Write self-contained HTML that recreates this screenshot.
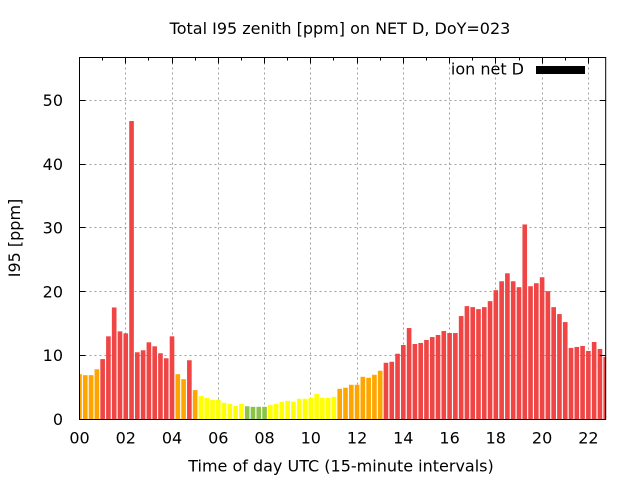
<!DOCTYPE html>
<html><head><meta charset="utf-8"><style>
html,body{margin:0;padding:0;background:#fff;}
svg{display:block;}
text{font-family:"DejaVu Sans","Liberation Sans",sans-serif;font-size:16px;fill:#000;}
.r{fill:#f04545}.o{fill:#ffa500}.y{fill:#ffff00}.g{fill:#8bc34a}
</style></head><body>
<svg width="640" height="480" viewBox="0 0 640 480" xmlns="http://www.w3.org/2000/svg">
<rect x="0" y="0" width="640" height="480" fill="#fff"/>
<defs><clipPath id="c"><rect x="0" y="0" width="22.75" height="57"/></clipPath></defs>
<g stroke="#a0a0a0" stroke-width="1" stroke-dasharray="2,3" fill="none">
<line x1="79.5" y1="355.5" x2="605.7" y2="355.5"/>
<line x1="79.5" y1="291.5" x2="605.7" y2="291.5"/>
<line x1="79.5" y1="227.5" x2="605.7" y2="227.5"/>
<line x1="79.5" y1="164.5" x2="605.7" y2="164.5"/>
<line x1="79.5" y1="100.5" x2="605.7" y2="100.5"/>
<line x1="125.5" y1="57.5" x2="125.5" y2="419"/>
<line x1="172.5" y1="57.5" x2="172.5" y2="419"/>
<line x1="218.5" y1="57.5" x2="218.5" y2="419"/>
<line x1="264.5" y1="57.5" x2="264.5" y2="419"/>
<line x1="310.5" y1="57.5" x2="310.5" y2="419"/>
<line x1="357.5" y1="57.5" x2="357.5" y2="419"/>
<line x1="403.5" y1="57.5" x2="403.5" y2="419"/>
<line x1="449.5" y1="57.5" x2="449.5" y2="419"/>
<line x1="495.5" y1="57.5" x2="495.5" y2="419"/>
<line x1="542.5" y1="57.5" x2="542.5" y2="419"/>
<line x1="588.5" y1="57.5" x2="588.5" y2="419"/>
</g>
<g transform="translate(79.5,419) scale(23.13,-6.374)" clip-path="url(#c)">
<rect class="o" x="-0.1" y="0" width="0.2" height="7.03"/>
<rect class="o" x="0.15" y="0" width="0.2" height="6.88"/>
<rect class="o" x="0.4" y="0" width="0.2" height="6.88"/>
<rect class="o" x="0.65" y="0" width="0.2" height="7.8"/>
<rect class="r" x="0.9" y="0" width="0.2" height="9.4"/>
<rect class="r" x="1.15" y="0" width="0.2" height="12.97"/>
<rect class="r" x="1.4" y="0" width="0.2" height="17.5"/>
<rect class="r" x="1.65" y="0" width="0.2" height="13.75"/>
<rect class="r" x="1.9" y="0" width="0.2" height="13.44"/>
<rect class="r" x="2.15" y="0" width="0.2" height="46.75"/>
<rect class="r" x="2.4" y="0" width="0.2" height="10.47"/>
<rect class="r" x="2.65" y="0" width="0.2" height="10.78"/>
<rect class="r" x="2.9" y="0" width="0.2" height="12.03"/>
<rect class="r" x="3.15" y="0" width="0.2" height="11.4"/>
<rect class="r" x="3.4" y="0" width="0.2" height="10.31"/>
<rect class="r" x="3.65" y="0" width="0.2" height="9.53"/>
<rect class="r" x="3.9" y="0" width="0.2" height="12.97"/>
<rect class="o" x="4.15" y="0" width="0.2" height="7.03"/>
<rect class="o" x="4.4" y="0" width="0.2" height="6.25"/>
<rect class="r" x="4.65" y="0" width="0.2" height="9.22"/>
<rect class="o" x="4.9" y="0" width="0.2" height="4.53"/>
<rect class="y" x="5.15" y="0" width="0.2" height="3.6"/>
<rect class="y" x="5.4" y="0" width="0.2" height="3.32"/>
<rect class="y" x="5.65" y="0" width="0.2" height="3.01"/>
<rect class="y" x="5.9" y="0" width="0.2" height="3.01"/>
<rect class="y" x="6.15" y="0" width="0.2" height="2.54"/>
<rect class="y" x="6.4" y="0" width="0.2" height="2.38"/>
<rect class="y" x="6.65" y="0" width="0.2" height="2.07"/>
<rect class="y" x="6.9" y="0" width="0.2" height="2.38"/>
<rect class="g" x="7.15" y="0" width="0.2" height="2.0"/>
<rect class="g" x="7.4" y="0" width="0.2" height="1.91"/>
<rect class="g" x="7.65" y="0" width="0.2" height="1.91"/>
<rect class="g" x="7.9" y="0" width="0.2" height="1.91"/>
<rect class="y" x="8.15" y="0" width="0.2" height="2.23"/>
<rect class="y" x="8.4" y="0" width="0.2" height="2.38"/>
<rect class="y" x="8.65" y="0" width="0.2" height="2.70"/>
<rect class="y" x="8.9" y="0" width="0.2" height="2.85"/>
<rect class="y" x="9.15" y="0" width="0.2" height="2.70"/>
<rect class="y" x="9.4" y="0" width="0.2" height="3.17"/>
<rect class="y" x="9.65" y="0" width="0.2" height="3.17"/>
<rect class="y" x="9.9" y="0" width="0.2" height="3.32"/>
<rect class="y" x="10.15" y="0" width="0.2" height="3.95"/>
<rect class="y" x="10.4" y="0" width="0.2" height="3.32"/>
<rect class="y" x="10.65" y="0" width="0.2" height="3.32"/>
<rect class="y" x="10.9" y="0" width="0.2" height="3.48"/>
<rect class="o" x="11.15" y="0" width="0.2" height="4.74"/>
<rect class="o" x="11.4" y="0" width="0.2" height="4.90"/>
<rect class="o" x="11.65" y="0" width="0.2" height="5.37"/>
<rect class="o" x="11.9" y="0" width="0.2" height="5.37"/>
<rect class="o" x="12.15" y="0" width="0.2" height="6.62"/>
<rect class="o" x="12.4" y="0" width="0.2" height="6.47"/>
<rect class="o" x="12.65" y="0" width="0.2" height="6.94"/>
<rect class="o" x="12.9" y="0" width="0.2" height="7.57"/>
<rect class="r" x="13.15" y="0" width="0.2" height="8.82"/>
<rect class="r" x="13.4" y="0" width="0.2" height="8.98"/>
<rect class="r" x="13.65" y="0" width="0.2" height="10.24"/>
<rect class="r" x="13.9" y="0" width="0.2" height="11.61"/>
<rect class="r" x="14.15" y="0" width="0.2" height="14.27"/>
<rect class="r" x="14.4" y="0" width="0.2" height="11.77"/>
<rect class="r" x="14.65" y="0" width="0.2" height="11.93"/>
<rect class="r" x="14.9" y="0" width="0.2" height="12.40"/>
<rect class="r" x="15.15" y="0" width="0.2" height="12.86"/>
<rect class="r" x="15.4" y="0" width="0.2" height="13.18"/>
<rect class="r" x="15.65" y="0" width="0.2" height="13.80"/>
<rect class="r" x="15.9" y="0" width="0.2" height="13.49"/>
<rect class="r" x="16.15" y="0" width="0.2" height="13.49"/>
<rect class="r" x="16.4" y="0" width="0.2" height="16.15"/>
<rect class="r" x="16.65" y="0" width="0.2" height="17.71"/>
<rect class="r" x="16.9" y="0" width="0.2" height="17.55"/>
<rect class="r" x="17.15" y="0" width="0.2" height="17.24"/>
<rect class="r" x="17.4" y="0" width="0.2" height="17.55"/>
<rect class="r" x="17.65" y="0" width="0.2" height="18.49"/>
<rect class="r" x="17.9" y="0" width="0.2" height="20.21"/>
<rect class="r" x="18.15" y="0" width="0.2" height="21.61"/>
<rect class="r" x="18.4" y="0" width="0.2" height="22.86"/>
<rect class="r" x="18.65" y="0" width="0.2" height="21.61"/>
<rect class="r" x="18.9" y="0" width="0.2" height="20.68"/>
<rect class="r" x="19.15" y="0" width="0.2" height="30.52"/>
<rect class="r" x="19.4" y="0" width="0.2" height="20.83"/>
<rect class="r" x="19.65" y="0" width="0.2" height="21.30"/>
<rect class="r" x="19.9" y="0" width="0.2" height="22.24"/>
<rect class="r" x="20.15" y="0" width="0.2" height="20.05"/>
<rect class="r" x="20.4" y="0" width="0.2" height="17.55"/>
<rect class="r" x="20.65" y="0" width="0.2" height="16.46"/>
<rect class="r" x="20.9" y="0" width="0.2" height="15.21"/>
<rect class="r" x="21.15" y="0" width="0.2" height="11.15"/>
<rect class="r" x="21.4" y="0" width="0.2" height="11.30"/>
<rect class="r" x="21.65" y="0" width="0.2" height="11.46"/>
<rect class="r" x="21.9" y="0" width="0.2" height="10.68"/>
<rect class="r" x="22.15" y="0" width="0.2" height="12.08"/>
<rect class="r" x="22.4" y="0" width="0.2" height="10.99"/>
<rect class="r" x="22.65" y="0" width="0.2" height="9.74"/>
</g>
<g stroke="#000" stroke-width="1" fill="none">
<rect x="79.5" y="57.5" width="526.2" height="362"/>
<path d="M79.5 355.5h6M79.5 291.5h6M79.5 227.5h6M79.5 164.5h6M79.5 100.5h6"/>
<path d="M605.7 355.5h-6M605.7 291.5h-6M605.7 227.5h-6M605.7 164.5h-6M605.7 100.5h-6"/>
<path d="M125.5 57.5v6M172.5 57.5v6M218.5 57.5v6M264.5 57.5v6M310.5 57.5v6M357.5 57.5v6M403.5 57.5v6M449.5 57.5v6M495.5 57.5v6M542.5 57.5v6M588.5 57.5v6"/>
<path d="M102.5 57.5v3M148.5 57.5v3M195.5 57.5v3M241.5 57.5v3M287.5 57.5v3M333.5 57.5v3M380.5 57.5v3M426.5 57.5v3M472.5 57.5v3M519.5 57.5v3M565.5 57.5v3"/>
</g>
<g text-anchor="end">
<text x="63" y="424.8">0</text>
<text x="63" y="361.1">10</text>
<text x="63" y="297.3">20</text>
<text x="63" y="233.6">30</text>
<text x="63" y="169.8">40</text>
<text x="63" y="106.1">50</text>
</g>
<g text-anchor="middle">
<text x="79.5" y="443.3">00</text>
<text x="125.8" y="443.3">02</text>
<text x="172" y="443.3">04</text>
<text x="218.3" y="443.3">06</text>
<text x="264.5" y="443.3">08</text>
<text x="310.8" y="443.3">10</text>
<text x="357.1" y="443.3">12</text>
<text x="403.3" y="443.3">14</text>
<text x="449.6" y="443.3">16</text>
<text x="495.8" y="443.3">18</text>
<text x="542.1" y="443.3">20</text>
<text x="588.4" y="443.3">22</text>
<text x="340" y="34">Total I95 zenith [ppm] on NET D, DoY=023</text>
<text x="341" y="471.5">Time of day UTC (15-minute intervals)</text>
<text transform="translate(20,238) rotate(-90)" x="0" y="0">I95 [ppm]</text>
</g>
<text x="524" y="74.5" text-anchor="end">ion net D</text>
<rect x="536" y="66" width="49" height="8" fill="#000"/>
</svg>
</body></html>
